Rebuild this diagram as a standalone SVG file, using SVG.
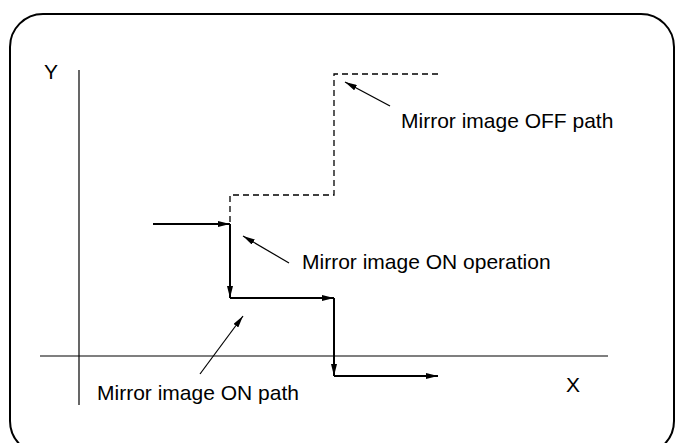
<svg xmlns="http://www.w3.org/2000/svg" width="677" height="443" viewBox="0 0 677 443">
<style>
text{font-family:"Liberation Sans",Arial,sans-serif;font-size:21px;fill:#000}
.ax{stroke:#000;stroke-width:1.2;fill:none}
.sol{stroke:#000;stroke-width:2;fill:none}
.dash{stroke:#000;stroke-width:1.3;fill:none;stroke-dasharray:6,4}
.lead{stroke:#000;stroke-width:1.2;fill:none}
</style>
<defs>
<marker id="ah" viewBox="0 0 12 6" refX="12" refY="3" markerWidth="12" markerHeight="6" markerUnits="userSpaceOnUse" orient="auto">
<path d="M0,0 L12,3 L0,6 Z" fill="#000"/>
</marker>
<marker id="ahs" viewBox="0 0 12 6" refX="12" refY="3" markerWidth="12" markerHeight="6" markerUnits="userSpaceOnUse" orient="auto">
<path d="M0,0 L12,3 L0,6 Z" fill="#000"/>
</marker>
</defs>
<rect x="10" y="14" width="664" height="440" rx="33" ry="33" fill="none" stroke="#000" stroke-width="2"/>
<g id="axes">
<line class="ax" x1="79" y1="70" x2="79" y2="405"/>
<line class="ax" x1="40" y1="356" x2="608" y2="356"/>
<text x="44" y="79">Y</text>
<text x="566" y="392">X</text>
</g>
<g id="connectors">
<path class="dash" d="M230,222 V195 H334 V74 H438"/>
<line class="sol" x1="153" y1="224" x2="230" y2="224" marker-end="url(#ah)"/>
<line class="sol" x1="230" y1="224" x2="230" y2="298" marker-end="url(#ah)"/>
<line class="sol" x1="230" y1="298" x2="334" y2="298" marker-end="url(#ah)"/>
<line class="sol" x1="334" y1="298" x2="334" y2="376" marker-end="url(#ah)"/>
<line class="sol" x1="334" y1="376" x2="438" y2="376" marker-end="url(#ah)"/>
<line class="lead" x1="390" y1="106" x2="345" y2="82" marker-end="url(#ahs)"/>
<line class="lead" x1="289" y1="263" x2="243" y2="236" marker-end="url(#ahs)"/>
<line class="lead" x1="200" y1="374" x2="243" y2="316" marker-end="url(#ahs)"/>
</g>
<g id="label-off"><text x="401" y="128">Mirror image OFF path</text></g>
<g id="label-on-op"><text x="302" y="269">Mirror image ON operation</text></g>
<g id="label-on-path"><text x="97" y="400">Mirror image ON path</text></g>
</svg>
